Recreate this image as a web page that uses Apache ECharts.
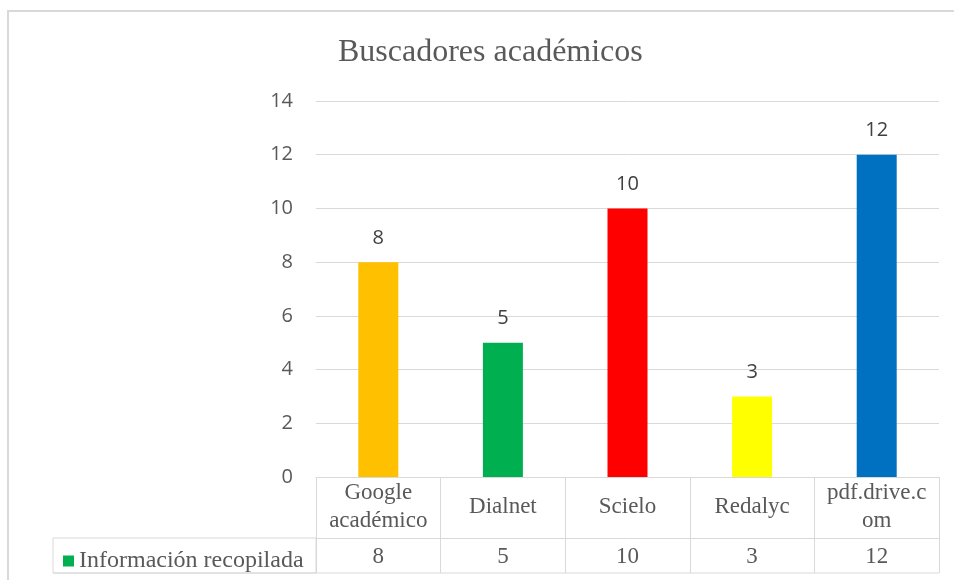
<!DOCTYPE html>
<html>
<head>
<meta charset="utf-8">
<script src="https://cdn.jsdelivr.net/npm/echarts@6/dist/echarts.min.js"></script>
<style>
html, body { margin: 0; padding: 0; background: #fff; }
#main { width: 954px; height: 580px; }
</style>
</head>
<body>
<div id="main"></div>
<script>
// datos
var categories = ['Google académico', 'Dialnet', 'Scielo', 'Redalyc', 'pdf.drive.com'];
var catLabels = ['Google\nacadémico', 'Dialnet', 'Scielo', 'Redalyc', 'pdf.drive.c\nom'];
var values = [8, 5, 10, 3, 12];
var barColors = ['#ffc000', '#00b050', '#ff0000', '#ffff00', '#0070c0'];
var yTicks = [0, 2, 4, 6, 8, 10, 12, 14];
var seriesName = 'Información recopilada';

var gridColor = '#d9d9d9';
var serif = '"Liberation Serif", "Times New Roman", serif';

var chart = echarts.init(document.getElementById('main'));

var option = {
    animation: false,
    title: {
        text: 'Buscadores académicos',
        left: 333,
        top: 32,
        textStyle: {
            fontFamily: serif,
            fontSize: 32,
            fontWeight: 'normal',
            color: '#595959'
        }
    },
    legend: {
        data: [seriesName],
        left: 58,
        top: 544,
        icon: 'rect',
        itemWidth: 11,
        itemHeight: 11,
        textStyle: {
            fontFamily: serif,
            fontSize: 24,
            color: '#595959'
        }
    },
    grid: {
        left: 316,
        right: 15,
        top: 101,
        bottom: 103
    },
    xAxis: [
        {
            type: 'category',
            data: categories,
            position: 'bottom',
            axisLine: { show: true, lineStyle: { color: gridColor, width: 1 } },
            axisTick: { show: true, interval: 0, length: 96, lineStyle: { color: gridColor } },
            axisLabel: {
                interval: 0,
                margin: 30,
                verticalAlign: 'middle',
                fontFamily: serif,
                fontSize: 23,
                lineHeight: 28,
                color: '#595959',
                formatter: function (v, i) { return catLabels[i]; }
            }
        },
        {
            type: 'category',
            data: values.map(String),
            position: 'bottom',
            offset: 61,
            axisLine: { show: true, lineStyle: { color: gridColor, width: 1 } },
            axisTick: { show: true, interval: 0, length: 35, lineStyle: { color: gridColor } },
            axisLabel: {
                interval: 0,
                margin: 19,
                verticalAlign: 'middle',
                fontFamily: serif,
                fontSize: 23,
                color: '#595959'
            }
        }
    ],
    yAxis: {
        type: 'value',
        min: yTicks[0],
        max: yTicks[yTicks.length - 1],
        interval: 2,
        axisLine: { show: false },
        axisTick: { show: false },
        splitLine: { lineStyle: { color: gridColor, width: 1 } },
        axisLabel: {
            margin: 23,
            fontFamily: '"Open Sans", sans-serif',
            fontSize: 20,
            color: '#595959'
        }
    },
    series: [
        {
            name: seriesName,
            type: 'bar',
            xAxisIndex: 0,
            barWidth: 40,
            itemStyle: { color: '#00b050' },
            label: {
                show: true,
                position: 'top',
                distance: 14,
                fontFamily: '"Open Sans", sans-serif',
                fontSize: 20,
                color: '#404040'
            },
            data: values.map(function (v, i) {
                return { value: v, itemStyle: { color: barColors[i] } };
            })
        }
    ],
    graphic: [
        {
            type: 'rect',
            shape: { x: 8, y: 11, width: 1000, height: 700 },
            style: { fill: 'none', stroke: gridColor, lineWidth: 2 },
            silent: true
        },
        {
            type: 'rect',
            shape: { x: 53, y: 538, width: 263, height: 35 },
            style: { fill: 'none', stroke: gridColor, lineWidth: 1 },
            silent: true
        },
        {
            type: 'line',
            shape: { x1: 53, y1: 573, x2: 939, y2: 573 },
            style: { stroke: gridColor, lineWidth: 1 },
            silent: true
        }
    ]
};

chart.setOption(option);
</script>
</body>
</html>
